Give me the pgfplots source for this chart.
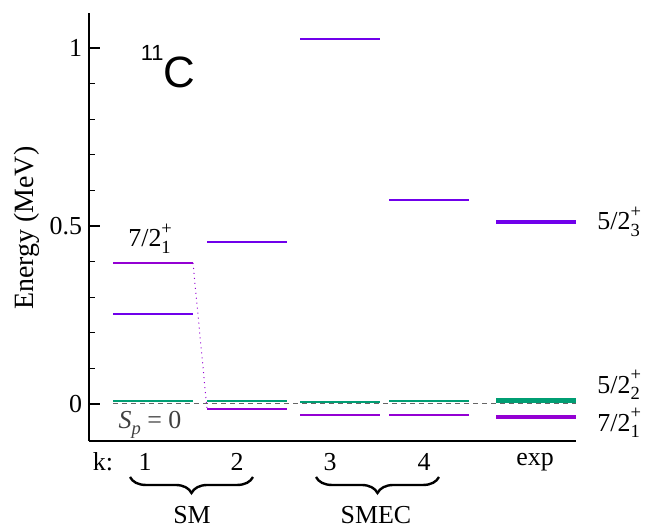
\documentclass[border=0pt]{standalone}
\usepackage{fontspec}
\setmainfont{Liberation Serif}
\newfontfamily\hel{Liberation Sans}
\usepackage{pgfplots}
\pgfplotsset{compat=1.18}
\usetikzlibrary{decorations.pathreplacing}
\definecolor{cviol}{RGB}{148,0,211}
\definecolor{cblue}{RGB}{112,0,235}
\definecolor{cgreen}{RGB}{0,158,115}
\newcommand{\sz}{\fontsize{9.3}{10}\selectfont}
\newcommand{\jp}[3]{#1\rlap{\raisebox{0.48em}{\sz #2}}\raisebox{-0.24em}{\sz #3}}
\begin{document}
\begin{tikzpicture}[font=\fontsize{13}{15}\selectfont]
\begin{axis}[
  x=0.5bp, y=178bp,
  xmin=89, xmax=576, ymin=-0.104, ymax=1.098,
  enlargelimits=false,
  axis lines=left,
  axis line style={-, line width=0.7bp, black},
  tick align=inside,
  xtick=\empty,
  ytick={0,0.5,1},
  yticklabels={0,0.5,1},
  minor y tick num=4,
  major tick length=5.5bp,
  minor tick length=3bp,
  tick style={line width=0.6bp, black},
  /pgf/number format/assume math mode=true,
  yticklabel style={font=\fontsize{13}{15}\selectfont},
  every node/.append style={font=\fontsize{13}{15}\selectfont},
  clip=false,
  unbounded coords=jump,
]
% invisible frame to fix picture size
\path (axis cs:0,-0.3455) rectangle (axis cs:652,1.1348);

% zero line
\addplot[gray!80!black, line width=0.5bp, dash pattern=on 2.5bp off 2bp] coordinates {(113,0) (576,0)};

% 5/2_3 (blue-violet)
\addplot[cblue, line width=1.1bp] table[row sep=\\] {
x y\\
113 0.253\\ 193 0.253\\ nan nan\\
207 0.455\\ 287 0.455\\ nan nan\\
300 1.025\\ 380 1.025\\ nan nan\\
389 0.573\\ 469 0.573\\
};
\addplot[cblue, line width=2.3bp] table[row sep=\\] {
x y\\
496 0.511\\ 576 0.511\\
};

% 5/2_2 (green)
\addplot[cgreen, line width=1.1bp] table[row sep=\\] {
x y\\
113 0.008\\ 193 0.008\\ nan nan\\
207 0.008\\ 287 0.008\\ nan nan\\
300 0.006\\ 380 0.006\\ nan nan\\
389 0.009\\ 469 0.009\\
};
\addplot[cgreen, line width=2.3bp] table[row sep=\\] {
x y\\
496 0.009\\ 576 0.009\\
};

% 7/2_1 (violet)
\addplot[cviol, line width=1.1bp] table[row sep=\\] {
x y\\
113 0.396\\ 193 0.396\\ nan nan\\
207 -0.014\\ 287 -0.014\\ nan nan\\
300 -0.031\\ 380 -0.031\\ nan nan\\
389 -0.031\\ 469 -0.031\\
};
\addplot[cviol, line width=2.3bp] table[row sep=\\] {
x y\\
496 -0.036\\ 576 -0.036\\
};
% connector
\addplot[cviol, dotted, line width=0.5bp] coordinates {(193,0.396) (207,-0.014)};

% texts
\node at (axis cs:168,0.947) {\hel\fontsize{22}{26}\selectfont\raisebox{0.62em}{\fontsize{11}{13}\selectfont 11}C};
\node[anchor=base west, inner sep=0pt] at (axis cs:128,0.441) {\fontsize{13}{15}\selectfont\jp{7/2}{+}{1}};
\node[text=black!75] at (axis cs:150,-0.059) {\fontsize{13}{15}\selectfont\textit{S}\raisebox{-0.25em}{\sz\textit{p}} = 0};
\node[anchor=base west, inner sep=0pt] at (axis cs:597,0.489) {\fontsize{13}{15}\selectfont\jp{5/2}{+}{3}};
\node[anchor=base west, inner sep=0pt] at (axis cs:597,0.030) {\fontsize{13}{15}\selectfont\jp{5/2}{+}{2}};
\node[anchor=base west, inner sep=0pt] at (axis cs:597,-0.076) {\fontsize{13}{15}\selectfont\jp{7/2}{+}{1}};
\node[rotate=90] at (axis cs:27,0.494) {\fontsize{14}{16}\selectfont Energy (MeV)};

\node at (axis cs:103,-0.163) {k:};
\node at (axis cs:145,-0.163) {1};
\node at (axis cs:237,-0.163) {2};
\node at (axis cs:330,-0.163) {3};
\node at (axis cs:424,-0.163) {4};
\node at (axis cs:535,-0.163) {exp};

\draw[decorate, decoration={brace, mirror, amplitude=8bp}, line width=1.2bp] (axis cs:130,-0.205) -- (axis cs:253,-0.205);
\draw[decorate, decoration={brace, mirror, amplitude=8bp}, line width=1.2bp] (axis cs:316,-0.205) -- (axis cs:439,-0.205);
\node at (axis cs:192,-0.312) {SM};
\node at (axis cs:376,-0.312) {SMEC};
\end{axis}
\end{tikzpicture}
\end{document}
